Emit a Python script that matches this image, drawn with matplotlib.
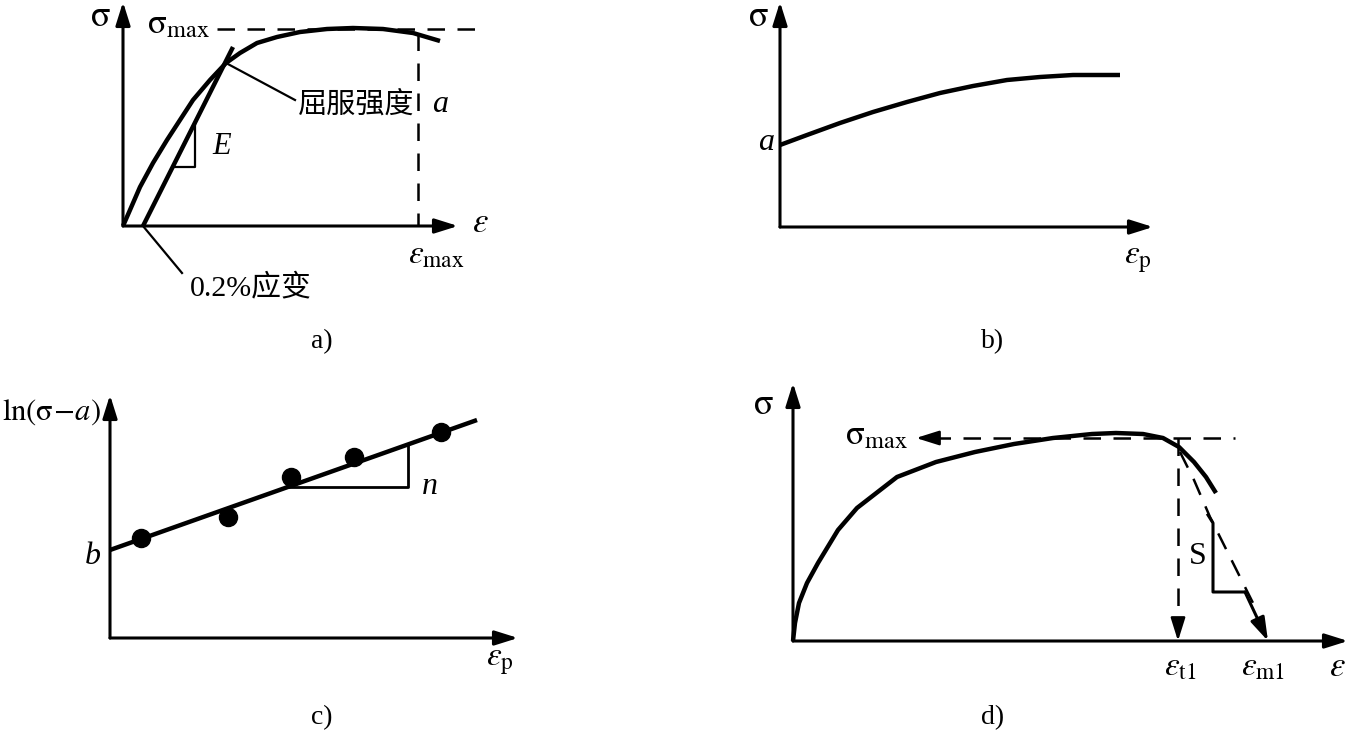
import matplotlib
matplotlib.use("Agg")
import matplotlib.pyplot as plt

plt.rcParams['font.family'] = ['Liberation Serif', 'Noto Sans CJK SC', 'DejaVu Sans']
plt.rcParams['mathtext.fontset'] = 'stix'

W, H = 1354, 736

# panel a) stress-strain curve with 0.2% offset line (units: px from origin, y up)
a_origin = (123, 226)
a_curve_x = [0, 7, 17, 30, 44, 57, 70, 87, 103, 117, 134, 154, 177, 204, 230, 260, 290, 317]
a_curve_y = [0, 16, 39, 63, 86, 106, 126, 146, 163, 173, 183, 189, 194, 197, 198, 197, 193, 185]
a_offset_x = [20, 110]
a_offset_y = [0, 179]
a_tri_x = [50, 72, 72]
a_tri_y = [59, 59, 103]
a_smax = 197
a_emax = 295

# panel b) flow curve starting at a
b_origin = (780, 227)
b_curve_x = [0, 27, 60, 93, 127, 160, 193, 227, 260, 293, 340]
b_curve_y = [82, 92, 104, 115, 125, 134, 141, 147, 150, 152, 152]

# panel c) ln(sigma - a) vs eps_p
c_origin = (110, 638)
c_fit_x = [0, 367]
c_fit_y = [88, 218]
c_pts_x = [31, 118, 181, 244, 331]
c_pts_y = [100, 121, 161, 181, 206]
c_tri_x = [178, 298, 298]
c_tri_y = [151, 151, 194]

# panel d) necking curve
d_origin = (793, 641)
d_curve_x = [0, 2, 6, 14, 25, 45, 64, 104, 143, 182, 221, 260, 299, 323, 350, 370, 386, 401, 413, 423]
d_curve_y = [0, 18, 38, 58, 78, 111, 133, 164, 179, 189, 197, 203, 207, 208, 207, 203, 194, 179, 164, 148]
d_smax = 203
d_et1 = 385
d_em1 = 475
d_dash_x = [387, 401, 417, 447, 460]
d_dash_y = [189, 161, 124, 64, 38]
d_s_x = [415, 420, 420, 452]
d_s_y = [126, 118, 49, 49]

fig = plt.figure(figsize=(W / 100, H / 100), dpi=100)


def panel(origin):
    ox, oy = origin
    ax = fig.add_axes([0, 0, 1, 1])
    ax.set_xlim(-ox, W - ox)
    ax.set_ylim(oy - H, oy)
    ax.axis('off')
    ax.patch.set_alpha(0)
    return ax


def arrow(ax, tip, base, lw=2.2, ls='-'):
    ax.annotate('', xy=tip, xytext=base,
                arrowprops=dict(arrowstyle='-|>,head_length=0.7,head_width=0.22',
                                mutation_scale=20, lw=lw, color='k', ls=ls,
                                shrinkA=0, shrinkB=0))


def axes_arrows(ax, xtip, ytip):
    arrow(ax, (xtip, 0), (0, 0))
    arrow(ax, (0, ytip), (0, 0))


curve_kw = dict(color='k', lw=3.2, solid_capstyle='butt', solid_joinstyle='round')
dash_kw = dict(color='k', lw=1.8, dashes=(7, 5))
thin_kw = dict(color='k', lw=1.6)
fs = 20
sig = r'$\mathrm{\sigma}$'
sigmax = r'$\mathrm{\sigma}_{\mathrm{max}}$'

# ---- a)
ax = panel(a_origin)
axes_arrows(ax, 335, 224)
ax.plot(a_curve_x, a_curve_y, **curve_kw)
ax.plot(a_offset_x, a_offset_y, **curve_kw)
ax.plot(a_tri_x, a_tri_y, **thin_kw)
ax.plot([94, 354], [a_smax, a_smax], **dash_kw)
ax.plot([a_emax, a_emax], [193, 0], **dash_kw)
ax.plot([103, 172], [163, 126], **thin_kw)
ax.plot([20, 59], [0, -47], **thin_kw)
ax.text(-23, 209, sig, fontsize=26, ha='center', va='center')
ax.text(87, 201, sigmax, fontsize=25, ha='right', va='center')
ax.text(99, 80, 'E', fontsize=22, style='italic', ha='center', va='center')
ax.text(175, 121, '屈服强度', fontsize=21, ha='left', va='center', family='Noto Sans CJK SC')
ax.text(317, 121, 'a', fontsize=23, style='italic', ha='center', va='center')
ax.text(67, -61, '0.2%应变', fontsize=21.5, ha='left', va='center')
ax.text(357, 3, r'$\varepsilon$', fontsize=25, ha='center', va='center')
ax.text(313, -29, r'$\varepsilon_{\mathrm{max}}$', fontsize=24, ha='center', va='center')
ax.text(199, -116, 'a)', fontsize=fs, ha='center', va='center')

# ---- b)
ax = panel(b_origin)
axes_arrows(ax, 373, 225)
ax.plot(b_curve_x, b_curve_y, **curve_kw)
ax.text(-22, 209, sig, fontsize=26, ha='center', va='center')
ax.text(-14, 84, 'a', fontsize=23, style='italic', ha='center', va='center')
ax.text(358, -33, r'$\varepsilon_{\mathrm{p}}$', fontsize=24, ha='center', va='center')
ax.text(213, -115, 'b)', fontsize=fs, ha='center', va='center')

# ---- c)
ax = panel(c_origin)
axes_arrows(ax, 408, 243)
ax.plot(c_fit_x, c_fit_y, **curve_kw)
ax.plot(c_pts_x, c_pts_y, 'o', color='k', ms=13)
ax.plot(c_tri_x, c_tri_y, color='k', lw=2.0)
ax.text(320, 151, 'n', fontsize=23, style='italic', ha='center', va='center')
ax.text(-17, 81, 'b', fontsize=23, style='italic', ha='center', va='center')
ax.text(-108, 226, r'$\mathrm{ln(\sigma}\!-\!a)$', fontsize=22, ha='left', va='center')
ax.text(390, -24, r'$\varepsilon_{\mathrm{p}}$', fontsize=24, ha='center', va='center')
ax.text(212, -80, 'c)', fontsize=fs, ha='center', va='center')

# ---- d)
ax = panel(d_origin)
axes_arrows(ax, 555, 258)
ax.plot(d_curve_x, d_curve_y, **curve_kw)
ax.plot([140, 442], [d_smax, d_smax], **dash_kw)
arrow(ax, (123, d_smax), (142, d_smax), lw=1.8)
ax.plot([d_et1, d_et1], [d_smax, 20], **dash_kw)
arrow(ax, (d_et1, 0), (d_et1, 22), lw=1.8)
ax.plot(d_dash_x, d_dash_y, **dash_kw)
ax.plot(d_s_x, d_s_y, color='k', lw=2.2)
arrow(ax, (d_em1, 0), (452, 49), lw=2.2)
ax.text(405, 84, 'S', fontsize=23, ha='center', va='center')
ax.text(-30, 236, sig, fontsize=26, ha='center', va='center')
ax.text(115, 205, sigmax, fontsize=25, ha='right', va='center')
ax.text(387, -26, r'$\varepsilon_{\mathrm{t1}}$', fontsize=24, ha='center', va='center')
ax.text(470, -26, r'$\varepsilon_{\mathrm{m1}}$', fontsize=24, ha='center', va='center')
ax.text(544, -27, r'$\varepsilon$', fontsize=25, ha='center', va='center')
ax.text(200, -77, 'd)', fontsize=fs, ha='center', va='center')

fig.savefig('out.png', dpi=100, facecolor='white')
